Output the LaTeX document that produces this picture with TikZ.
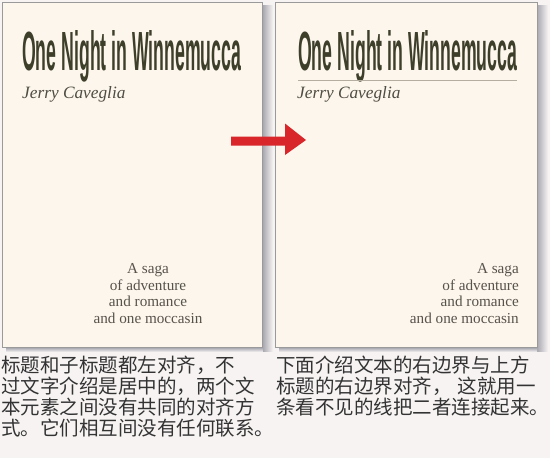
\documentclass[tikz,border=0pt]{standalone}
\usepackage{fontspec}
\usepackage{graphicx}
\setmainfont{Liberation Serif}
\newfontfamily\titlefont{Liberation Sans}
\newfontfamily\cjkfont{Noto Sans CJK SC}
\definecolor{pagebg}{HTML}{F7F3F3}
\definecolor{cardfill}{HTML}{FCF6EC}
\definecolor{cardline}{HTML}{9A9A9A}
\definecolor{titlecol}{HTML}{3E3F2A}
\definecolor{authorcol}{HTML}{4F4C44}
\definecolor{bodycol}{HTML}{57524C}
\definecolor{capcol}{HTML}{333333}
\definecolor{arrowred}{HTML}{D8262A}
\definecolor{shadowcol}{HTML}{A8A8B0}
\definecolor{rulecol}{HTML}{B5AD9F}
\tikzset{
  card/.style={draw=cardline, fill=cardfill, line width=0.8pt},
  titletext/.style={inner sep=0pt, anchor=base west, text=titlecol},
  authortext/.style={inner sep=0pt, anchor=base west, text=authorcol, font=\itshape\fontsize{17.3}{19}\selectfont},
  bodytext/.style={inner sep=0pt, text=bodycol, font=\fontsize{15.2}{16.8}\selectfont},
  captext/.style={inner sep=0pt, anchor=north west, align=left, text=capcol, font=\cjkfont\fontsize{19.5}{20.8}\selectfont},
}
\newcommand{\booktitle}{\resizebox{219pt}{40pt}{\titlefont\bfseries One Night in Winnemucca}}
\begin{document}
\begin{tikzpicture}[x=1pt,y=-1pt]
\useasboundingbox (0,0) rectangle (550,458);
\fill[pagebg] (0,0) rectangle (550,458);
% shadows
\shade[left color=shadowcol, right color=pagebg] (262.7,5) rectangle (273,351);
\shade[top color=shadowcol, bottom color=pagebg] (6,347.7) rectangle (262.7,352);
\shade[left color=shadowcol, right color=pagebg] (537,5) rectangle (548,351);
\shade[top color=shadowcol, bottom color=pagebg] (279,347.7) rectangle (537,352);
% cards
\path[card] (2,2) rectangle (262.7,347.7);
\path[card] (275,2) rectangle (537,347.7);
% left card
\node[titletext] (titleL) at (22,70) {\booktitle};
\node[authortext] (authorL) at (22,98) {Jerry Caveglia};
\node[bodytext, align=center, anchor=north] (bodyL) at (148,263) {A saga\\of adventure\\and romance\\and one moccasin};
% right card
\node[titletext] (titleR) at (298,70) {\booktitle};
\draw[rulecol, line width=0.8pt] (titleR.south west |- 0,80) -- (titleR.south east |- 0,80);
\node[authortext] (authorR) at (297,98) {Jerry Caveglia};
\node[bodytext, align=right, anchor=north east] (bodyR) at (519,263) {A saga\\of adventure\\and romance\\and one moccasin};
% arrow
\fill[arrowred] (231,136.7) -- (285,136.7) -- (285,123.5) -- (306,140) -- (285,155) -- (285,145.7) -- (231,145.7) -- cycle;
% captions
\node[captext] (capL) at (1,356) {标题和子标题都左对齐，不\\过文字介绍是居中的，两个文\\本元素之间没有共同的对齐方\\式。它们相互间没有任何联系。};
\node[captext] (capR) at (276,356) {下面介绍文本的右边界与上方\\标题的右边界对齐，\hspace{6pt}这就用一\\条看不见的线把二者连接起来。};
\end{tikzpicture}
\end{document}
